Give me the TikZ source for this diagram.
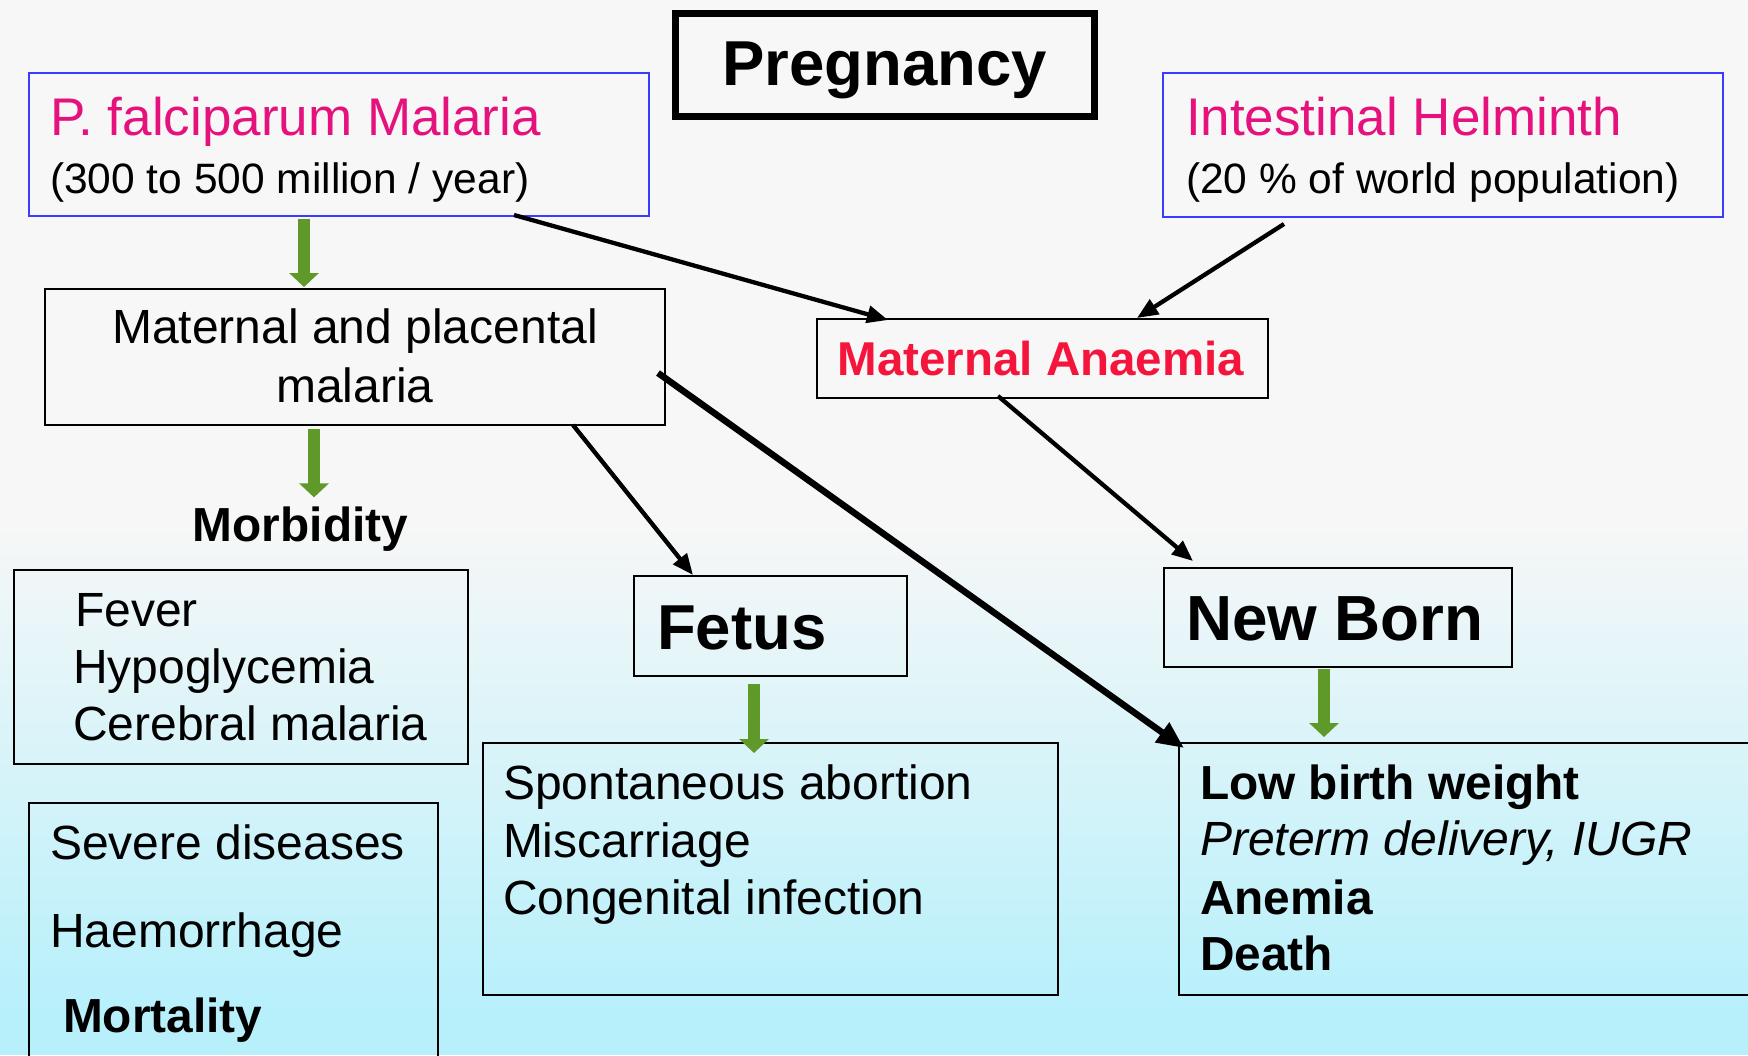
\documentclass[tikz,border=0pt]{standalone}
\usepackage{fontspec}
\setmainfont{Liberation Sans}
\usetikzlibrary{arrows.meta,calc}
\definecolor{bgtop}{RGB}{247,247,247}
\definecolor{bgbot}{RGB}{183,240,251}
\definecolor{gr}{RGB}{95,153,42}
\definecolor{mag}{RGB}{229,18,125}
\definecolor{redt}{RGB}{245,20,60}
\definecolor{bl}{RGB}{60,60,255}
\begin{document}
\begin{tikzpicture}[x=1pt,y=-1pt,
  box/.style={draw=black, line width=2.7pt, inner sep=0, outer sep=0},
  bbox/.style={draw=bl, line width=2.2pt, inner sep=0, outer sep=0},
  lt/.style={anchor=base west, inner sep=0, outer sep=0},
  ct/.style={anchor=base, inner sep=0, outer sep=0},
  fs/.style={font=\fontsize{#1}{#1}\selectfont},
  fb/.style={font=\fontsize{#1}{#1}\selectfont\bfseries},
  fi/.style={font=\fontsize{#1}{#1}\selectfont\itshape},
  barrow/.style={draw=black, line width=4.3pt, -{Triangle[length=21pt,width=17pt]}},
  tarrow/.style={draw=black, line width=6.5pt, -{Triangle[length=27pt,width=23pt]}},
  garrow/.style={draw=gr, line width=11.5pt, -{Triangle[length=14pt,width=29pt]}}
]
\useasboundingbox (0,0) rectangle (1748,1055);
\clip (0,0) rectangle (1748,1055);
% background
\fill[bgtop] (0,0) rectangle (1748,520);
\shade[top color=bgtop, bottom color=bgbot] (0,520) rectangle (1748,1010);
\fill[bgbot] (0,1010) rectangle (1748,1055);

% boxes
\node[box, line width=7pt, minimum width=419pt, minimum height=103pt] (preg) at (884.5,64.5) {};
\node[bbox, minimum width=620pt, minimum height=143pt] (pf) at (339,144.5) {};
\node[bbox, minimum width=560pt, minimum height=144pt] (ih) at (1443,145) {};
\node[box, minimum width=620pt, minimum height=136pt] (mp) at (355,357) {};
\node[box, minimum width=451pt, minimum height=79pt] (ma) at (1042.5,358.5) {};
\node[box, minimum width=454pt, minimum height=194pt] (mb) at (241,667) {};
\node[box, minimum width=273pt, minimum height=100pt] (fet) at (770.5,626) {};
\node[box, minimum width=348pt, minimum height=99pt] (nb) at (1338,617.5) {};
\node[box, minimum width=575pt, minimum height=252pt] (fo) at (770.5,869) {};
\node[box, minimum width=581pt, minimum height=252pt] (lbw) at (1469.5,869) {};
\node[box, minimum width=409pt, minimum height=267pt] (sev) at (233.5,936.5) {};

% texts
\node[ct, fb=63.5] at (884.5,85) {Pregnancy};
\node[lt, fs=53, text=mag] at (50,135) {P. falciparum Malaria};
\node[lt, fs=42.5] at (50,193) {(300 to 500 million / year)};
\node[lt, fs=53, text=mag] at (1186,135) {Intestinal Helminth};
\node[lt, fs=42.5] at (1186,193) {(20 \% of world population)};
\node[ct, fs=48] at (355,343) {Maternal and placental};
\node[ct, fs=48] at (355,402) {malaria};
\node[ct, fb=47.5, text=redt] at (1041,375) {Maternal Anaemia};
\node[ct, fb=47.8] (morb) at (300.5,541) {Morbidity};
\node[lt, fs=48] at (75,626) {Fever};
\node[lt, fs=48] at (73,683) {Hypoglycemia};
\node[lt, fs=48] at (73,740) {Cerebral malaria};
\node[lt, fb=63.5] at (657,649) {Fetus};
\node[lt, fb=63.8] at (1186,640) {New Born};
\node[lt, fs=48] at (503,799) {Spontaneous abortion};
\node[lt, fs=48] at (503,857) {Miscarriage};
\node[lt, fs=48] at (503,914) {Congenital infection};
\node[lt, fb=47.8] at (1200,799) {Low birth weight};
\node[lt, fi=48] at (1200,855) {Preterm delivery, IUGR};
\node[lt, fb=47.8] at (1200,914) {Anemia};
\node[lt, fb=47.8] at (1200,970) {Death};
\node[lt, fs=48] at (50,859) {Severe diseases};
\node[lt, fs=48] at (50,947) {Haemorrhage};
\node[lt, fb=47.8] at (63,1032) {Mortality};

% green arrows
\draw[garrow] ([shift={(-35,3)}]pf.south) -- ([shift={(-51,-2)}]mp.north);
\draw[garrow] ([shift={(-41,4)}]mp.south) -- ([shift={(13.5,-9)}]morb.north);
\draw[garrow] ([shift={(-16.5,8)}]fet.south) -- ([shift={(-16.5,10)}]fo.north);
\draw[garrow] ([shift={(-14,2)}]nb.south) -- ([shift={(-14,70)}]nb.south);

% black arrows
\draw[barrow] ([shift={(175,-1)}]pf.south) -- ([shift={(-154.5,1)}]ma.north);
\draw[barrow] ([shift={(-159,7)}]ih.south) -- ([shift={(94.5,-1)}]ma.north);
\draw[barrow] ([shift={(-44.5,-2)}]ma.south) -- ([shift={(-145,-7)}]nb.north);
\draw[barrow] ([shift={(218,0)}]mp.south) -- ([shift={(-77.5,-1)}]fet.north);
\draw[tarrow] ([shift={(-7,16)}]mp.east) -- ([shift={(5,5)}]lbw.north west);
\end{tikzpicture}
\end{document}
